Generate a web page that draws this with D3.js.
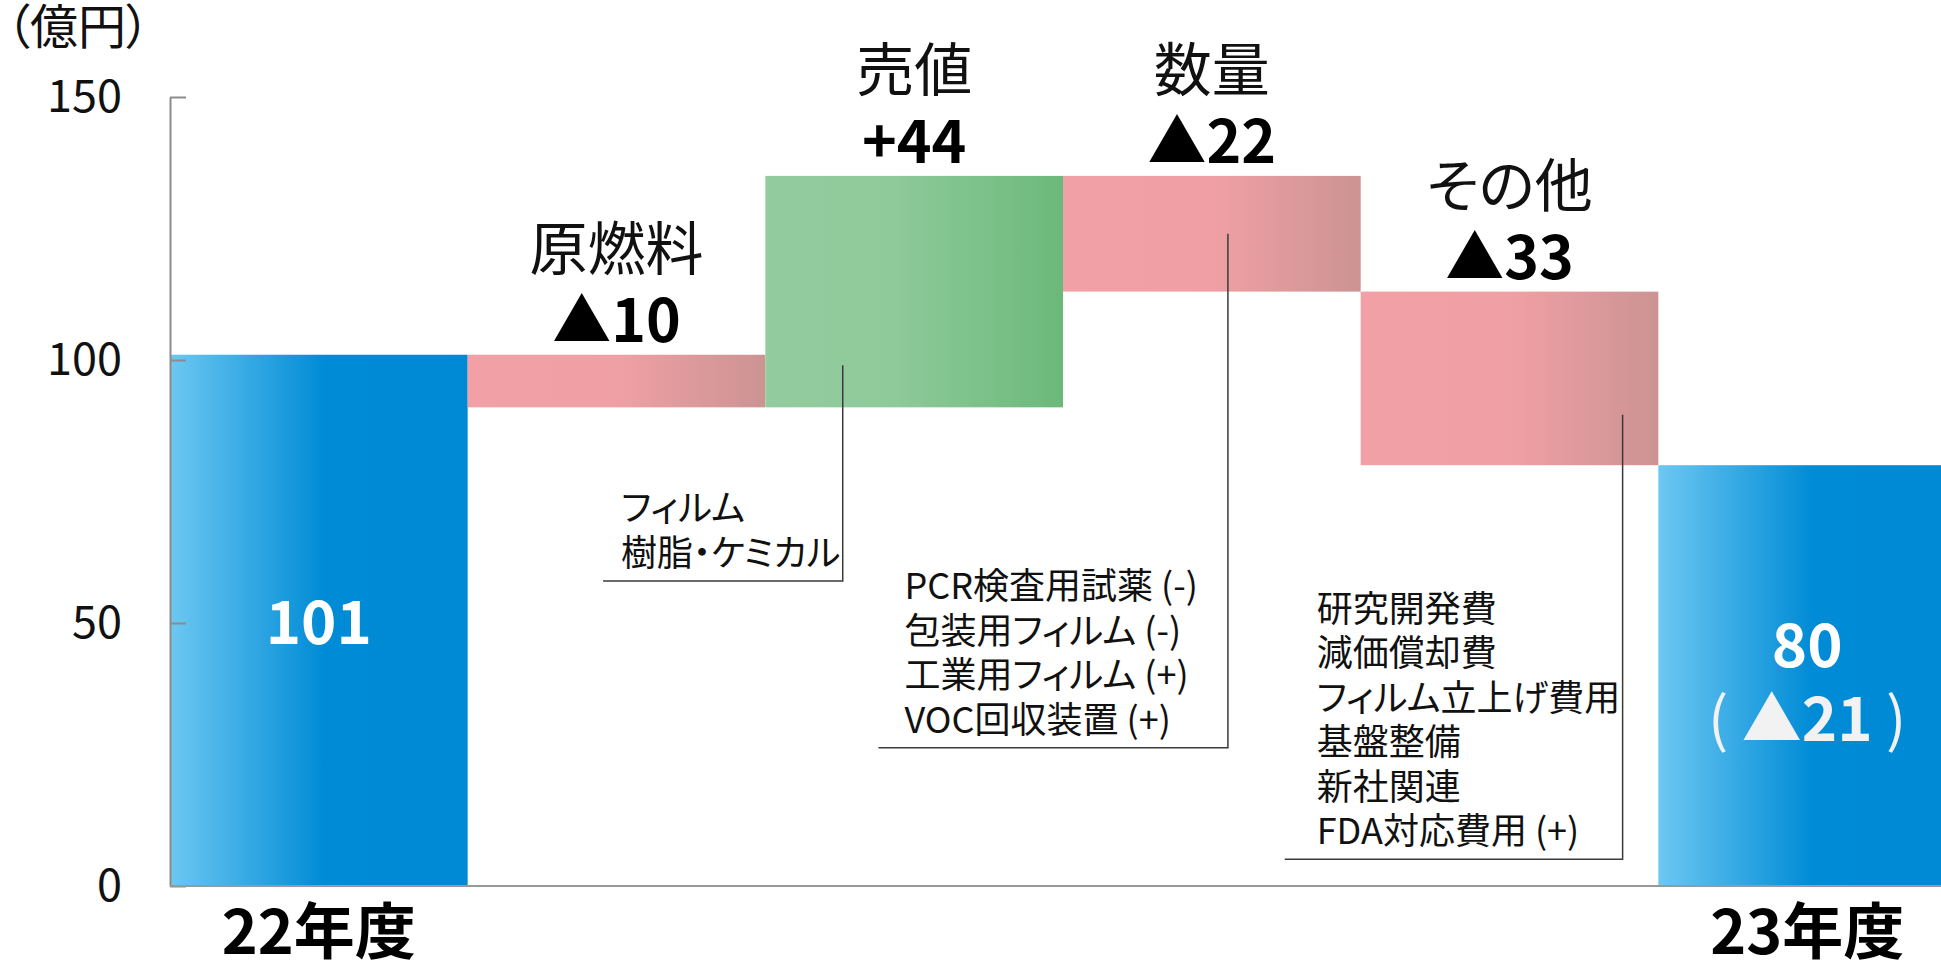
<!DOCTYPE html>
<html>
<head>
<meta charset="utf-8">
<script src="https://cdn.jsdelivr.net/npm/d3@7"></script>
<style>
  body { margin: 0; background: #fff; }
  svg { display: block; font-family: "Noto Sans CJK JP", "Noto Sans", sans-serif; font-feature-settings: "palt"; }
</style>
</head>
<body>
<script>
// 営業利益の増減要因（億円）
var categories = ['22年度', '原燃料', '売値', '数量', 'その他', '23年度'];
var kinds = ['total', 'minus', 'plus', 'minus', 'minus', 'total'];
var values = [101, -10, 44, -22, -33, 80];
var valueLabels = ['101', '▲10', '+44', '▲22', '▲33', '80'];
var totalChangeLabel = '▲21';
var yTicks = [0, 50, 100, 150];
var unitLabel = '（億円）';

var notesPrice = ['フィルム', '樹脂・ケミカル'];
var notesVolume = ['PCR検査用試薬 (-)', '包装用フィルム (-)', '工業用フィルム (+)', 'VOC回収装置 (+)'];
var notesOther = ['研究開発費', '減価償却費', 'フィルム立上げ費用', '基盤整備', '新社関連', 'FDA対応費用 (+)'];

// build waterfall steps
var bars = [];
var run = 0;
categories.forEach(function (c, i) {
  var start, end;
  if (kinds[i] === 'total') { start = 0; end = values[i]; }
  else { start = run; end = run + values[i]; }
  run = end;
  bars.push({ name: c, kind: kinds[i], start: start, end: end, label: valueLabels[i] });
});

var svg = d3.select('body').append('svg')
  .attr('width', 1941)
  .attr('height', 969);

var margin = { top: 97, right: -15, bottom: 83, left: 170 },
  width = +svg.attr('width') - margin.left - margin.right,
  height = +svg.attr('height') - margin.top - margin.bottom,
  g = svg.append('g').attr('transform', 'translate(' + margin.left + ',' + margin.top + ')');

var x = d3.scaleBand().domain(categories).range([0, width]).padding(0);
var y = d3.scaleLinear().domain([0, 150]).range([height, 0]);

// gradients
var defs = svg.append('defs');
function grad(id, stops) {
  var lg = defs.append('linearGradient').attr('id', id)
    .attr('x1', '0%').attr('x2', '100%').attr('y1', '0%').attr('y2', '0%');
  stops.forEach(function (s) {
    lg.append('stop').attr('offset', s[0]).attr('stop-color', s[1]);
  });
}
grad('g-total', [['0%', '#6cc8f2'], ['52%', '#008bd6'], ['100%', '#008ad5']]);
grad('g-minus', [['0%', '#f1a0a5'], ['50%', '#f0a0a4'], ['100%', '#cc9393']]);
grad('g-plus', [['0%', '#93cc9e'], ['42%', '#8fca9b'], ['100%', '#6bb97a']]);

g.append('g')
  .selectAll('rect')
  .data(bars)
  .enter().append('rect')
  .attr('x', function (d) { return x(d.name); })
  .attr('width', x.bandwidth())
  .attr('y', function (d) { return y(Math.max(d.start, d.end)); })
  .attr('height', function (d) { return Math.abs(y(d.start) - y(d.end)); })
  .style('fill', function (d) { return 'url(#g-' + d.kind + ')'; });

// callouts: anchored by bar / value
var callouts = [
  { bar: '売値', at: 0.26, top: 99, bottom: 58, from: '原燃料', fromAt: 0.455, pad: 18, notes: notesPrice },
  { bar: '数量', at: 0.554, top: 124, bottom: 26.3, from: '売値', fromAt: 0.38, pad: 26, notes: notesVolume },
  { bar: 'その他', at: 0.88, top: 89.6, bottom: 5.1, from: '数量', fromAt: 0.745, pad: 32, notes: notesOther }
];
var lineGap = 44.5;
callouts.forEach(function (c) {
  var vx = x(c.bar) + c.at * x.bandwidth();
  var lx = x(c.from) + c.fromAt * x.bandwidth();
  var yb = y(c.bottom);
  g.append('path')
    .attr('d', 'M' + vx + ',' + y(c.top) + 'V' + yb + 'H' + lx)
    .style('fill', 'none')
    .style('stroke', '#3a3a3a')
    .style('stroke-width', 1.5);
  var n = c.notes.length;
  g.append('g').selectAll('text')
    .data(c.notes)
    .enter().append('text')
    .attr('x', lx + c.pad)
    .attr('y', function (d, i) { return yb - 31 - (n - 1 - i) * lineGap; })
    .attr('dominant-baseline', 'central')
    .style('font-size', '36px')
    .style('fill', '#111')
    .text(function (d) { return d; });
});

// axis
var axis = g.append('g')
  .call(d3.axisLeft(y).tickValues(yTicks).tickSize(-16).tickSizeOuter(0).tickPadding(48));
axis.select('.domain').style('stroke', '#8c8c8c').style('stroke-width', 2);
axis.selectAll('.tick line').style('stroke', '#8c8c8c').style('stroke-width', 2);
axis.selectAll('.tick text')
  .style('font-size', '45px')
  .style('font-family', '"Noto Sans CJK JP", sans-serif')
  .style('fill', '#111');

g.append('line')
  .attr('x1', 0).attr('x2', width)
  .attr('y1', y(0)).attr('y2', y(0))
  .style('stroke', '#999')
  .style('stroke-width', 2);

// unit
svg.append('text')
  .attr('x', 6)
  .attr('y', 44)
  .style('font-size', '48px')
  .style('fill', '#111')
  .text(unitLabel);

// step labels above bars
var steps = bars.filter(function (d) { return d.kind !== 'total'; });
g.append('g').selectAll('text')
  .data(steps)
  .enter().append('text')
  .attr('x', function (d) { return x(d.name) + x.bandwidth() / 2; })
  .attr('y', function (d) { return y(Math.max(d.start, d.end)) - 110; })
  .attr('dominant-baseline', 'central')
  .style('text-anchor', 'middle')
  .style('font-size', '58px')
  .style('fill', '#111')
  .text(function (d) { return d.name; });

g.append('g').selectAll('text')
  .data(steps)
  .enter().append('text')
  .attr('x', function (d) { return x(d.name) + x.bandwidth() / 2; })
  .attr('y', function (d) { return y(Math.max(d.start, d.end)) - 38; })
  .attr('dominant-baseline', 'central')
  .style('text-anchor', 'middle')
  .style('font-size', '59px')
  .style('font-weight', 'bold')
  .style('fill', '#000')
  .text(function (d) { return d.label; });

// totals
var totals = bars.filter(function (d) { return d.kind === 'total'; });
g.append('g').selectAll('text')
  .data(totals)
  .enter().append('text')
  .attr('x', function (d) { return x(d.name) + x.bandwidth() / 2; })
  .attr('y', height + 68)
  .style('text-anchor', 'middle')
  .style('font-size', '61px')
  .style('font-weight', 'bold')
  .style('fill', '#000')
  .text(function (d) { return d.name; });

var first = totals[0], last = totals[totals.length - 1];
g.append('text')
  .attr('x', x(first.name) + x.bandwidth() / 2)
  .attr('y', y(first.end / 2) - 3)
  .attr('dominant-baseline', 'central')
  .style('text-anchor', 'middle')
  .style('font-size', '60px')
  .style('font-weight', 'bold')
  .style('fill', '#fff')
  .text(first.label);

var lx = x(last.name) + x.bandwidth() / 2;
g.append('text')
  .attr('x', lx)
  .attr('y', y(last.end / 2) - 35)
  .attr('dominant-baseline', 'central')
  .style('text-anchor', 'middle')
  .style('font-size', '60px')
  .style('font-weight', 'bold')
  .style('fill', '#fff')
  .text(last.label);

var chg = g.append('text')
  .attr('x', lx)
  .attr('y', y(last.end / 2) + 38)
  .attr('dominant-baseline', 'central')
  .style('text-anchor', 'middle')
  .style('font-size', '60px')
  .style('fill', '#f2f2f2');
chg.append('tspan').text('(  ');
chg.append('tspan').style('font-weight', 'bold').text(totalChangeLabel);
chg.append('tspan').text('  )');
</script>
</body>
</html>
